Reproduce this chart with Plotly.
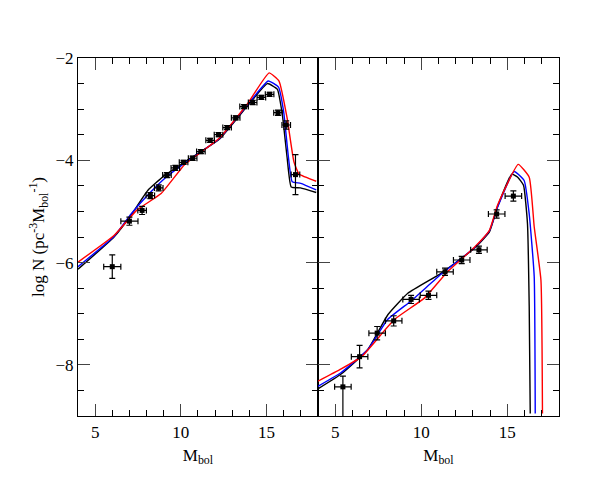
import plotly.graph_objects as go

# Left panel data
L_M = [6.0, 7.0, 7.74, 8.22, 8.71, 9.19, 9.68, 10.16, 10.69, 11.17, 11.71, 12.2, 12.7, 13.2, 13.69, 14.19, 14.7, 15.18, 15.67, 16.15, 16.69]
L_N = [-6.08, -5.19, -4.98, -4.69, -4.54, -4.29, -4.15, -4.04, -3.96, -3.83, -3.61, -3.50, -3.36, -3.17, -2.95, -2.87, -2.77, -2.71, -3.07, -3.31, -4.28]
L_xe = [0.5, 0.5, 0.25, 0.25, 0.25, 0.25, 0.25, 0.25, 0.25, 0.25, 0.25, 0.25, 0.25, 0.25, 0.25, 0.25, 0.25, 0.25, 0.25, 0.25, 0.25]
L_ye = [0.23, 0.08, 0.08, 0.06, 0.06, 0.05, 0.05, 0.04, 0.04, 0.04, 0.04, 0.04, 0.04, 0.04, 0.04, 0.04, 0.04, 0.04, 0.05, 0.08, 0.39]

L_black_x = [4, 6.1, 7.1, 8.07, 9.04, 10.2, 12.24, 13.88, 15.05, 15.63, 15.92, 16.2, 16.44, 16.98, 17.9]
L_black_y = [-6.13, -5.50, -5.07, -4.59, -4.30, -4.04, -3.59, -2.94, -2.50, -2.61, -3.10, -3.94, -4.52, -4.54, -4.63]
L_blue_x = [4, 6.1, 7.1, 8.07, 9.04, 10.2, 12.24, 13.88, 15.1, 15.7, 16.0, 16.25, 16.5, 17.0, 17.9]
L_blue_y = [-6.08, -5.49, -5.05, -4.68, -4.36, -4.06, -3.58, -2.92, -2.45, -2.57, -3.05, -3.85, -4.42, -4.45, -4.58]
L_red_x = [4, 6.1, 7.45, 8.85, 10.2, 10.7, 12.24, 13.88, 15.15, 15.73, 16.2, 16.6, 16.9, 17.9]
L_red_y = [-5.99, -5.47, -4.97, -4.65, -4.09, -3.96, -3.57, -2.90, -2.29, -2.45, -3.17, -4.03, -4.27, -4.41]

# Right panel data
R_M = [5.45, 6.42, 7.44, 8.4, 9.41, 10.42, 11.38, 12.35, 13.35, 14.38, 15.35]
R_N = [-8.43, -7.84, -7.38, -7.14, -6.72, -6.64, -6.18, -5.95, -5.75, -5.05, -4.70]
R_xe = [0.48, 0.48, 0.48, 0.48, 0.48, 0.48, 0.48, 0.48, 0.48, 0.48, 0.48]
R_ye_up = [0.21, 0.22, 0.13, 0.1, 0.08, 0.08, 0.07, 0.07, 0.07, 0.08, 0.1]
R_ye_dn = [1.0, 0.22, 0.13, 0.1, 0.08, 0.08, 0.07, 0.07, 0.07, 0.08, 0.1]

R_black_x = [4, 5.35, 6.9, 8.06, 9.22, 11.15, 13.09, 13.96, 14.43, 15.26, 15.6, 15.94, 16.17, 16.27, 16.33]
R_black_y = [-8.47, -8.18, -7.70, -7.02, -6.60, -6.21, -5.72, -5.40, -4.91, -4.27, -4.33, -4.49, -5.24, -6.86, -8.95]
R_blue_x = [4, 5.35, 6.9, 8.06, 9.41, 11.15, 13.09, 13.96, 14.43, 15.4, 15.98, 16.27, 16.56, 16.62]
R_blue_y = [-8.42, -8.15, -7.70, -7.11, -6.75, -6.23, -5.71, -5.38, -4.92, -4.22, -4.40, -5.05, -6.27, -8.95]
R_red_x = [4, 5.35, 6.57, 8.45, 10.2, 11.55, 13.09, 13.96, 14.43, 15.63, 16.27, 16.56, 16.95, 17.04]
R_red_y = [-8.32, -8.08, -7.83, -7.11, -6.69, -6.17, -5.70, -5.37, -4.88, -4.08, -4.33, -5.30, -6.34, -8.95]

fig = go.Figure()
lw = 1.4
for xs, ys, c, ax in [(L_black_x, L_black_y, "black", ""), (L_blue_x, L_blue_y, "blue", ""), (L_red_x, L_red_y, "red", ""),
                      (R_black_x, R_black_y, "black", "2"), (R_blue_x, R_blue_y, "blue", "2"), (R_red_x, R_red_y, "red", "2")]:
    fig.add_trace(go.Scatter(x=xs, y=ys, mode="lines", line=dict(color=c, width=lw, shape="spline", smoothing=0.4),
                             xaxis="x" + ax, yaxis="y" + ax, showlegend=False, cliponaxis=True))

fig.add_trace(go.Scatter(x=L_M, y=L_N, mode="markers", marker=dict(color="black", size=5, symbol="square"),
                         error_x=dict(array=L_xe, color="black", width=3, thickness=1.2),
                         error_y=dict(array=L_ye, color="black", width=3, thickness=1.2),
                         xaxis="x", yaxis="y", showlegend=False))
fig.add_trace(go.Scatter(x=R_M, y=R_N, mode="markers", marker=dict(color="black", size=5, symbol="square"),
                         error_x=dict(array=R_xe, color="black", width=3, thickness=1.2),
                         error_y=dict(array=R_ye_up, arrayminus=R_ye_dn, color="black", width=3, thickness=1.2),
                         xaxis="x2", yaxis="y2", showlegend=False))

font = dict(family="Liberation Serif", size=17, color="black")
common_x = dict(range=[4, 18], tickvals=[5, 10, 15], ticks="inside", ticklen=12, tickwidth=1.3, mirror="allticks",
                showline=True, linecolor="black", linewidth=1.2, showgrid=False, zeroline=False, automargin=False,
                minor=dict(dtick=1, tick0=0, ticks="inside", ticklen=6, tickcolor="black", tickwidth=1.3),
                tickfont=font, title=dict(text="M<sub>bol</sub>", font=font, standoff=8))
common_y = dict(range=[-9, -2], tickvals=[-8, -6, -4, -2], ticks="inside", ticklen=12, tickwidth=1.3, mirror="allticks",
                showline=True, linecolor="black", linewidth=1.2, showgrid=False, zeroline=False, automargin=False,
                minor=dict(dtick=0.5, tick0=0, ticks="inside", ticklen=6, tickcolor="black", tickwidth=1.3),
                tickfont=font)

fig.update_layout(
    width=598, height=481, paper_bgcolor="white", plot_bgcolor="white",
    margin=dict(l=70, r=47, t=50, b=73),
    xaxis=dict(domain=[0, 0.4988], anchor="y", **common_x),
    xaxis2=dict(domain=[0.4988, 1], anchor="y2", **common_x),
    yaxis=dict(anchor="x", title=dict(text="log N (pc<sup>-3</sup>M<sub>bol</sub><sup>-1</sup>)", font=font, standoff=6), **common_y),
    yaxis2=dict(anchor="x2", showticklabels=False, **common_y),
)
fig.write_html("out.html")
